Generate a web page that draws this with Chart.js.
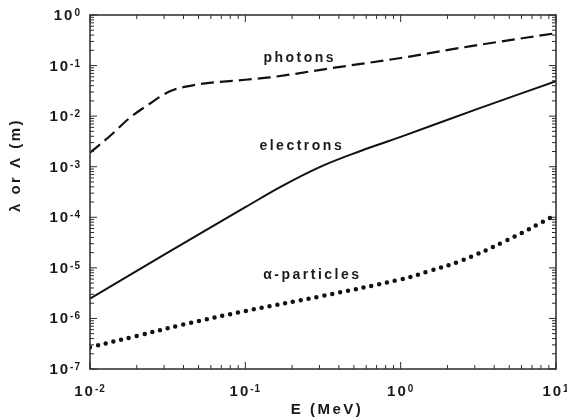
<!DOCTYPE html>
<html>
<head>
<meta charset="utf-8">
<script src="https://cdn.jsdelivr.net/npm/chart.js@4.4.0/dist/chart.umd.min.js"></script>
<style>
  html, body { margin: 0; padding: 0; background: #fff; }
  #wrap { width: 567px; height: 418px; }
</style>
</head>
<body>
<div id="wrap"><canvas id="canvas" width="567" height="418"></canvas></div>
<script>
// values (E in MeV, lambda in m)
let photonE = [0.01, 0.0135, 0.018, 0.0245, 0.0327, 0.0485, 0.1, 0.144, 0.386, 1, 2.78, 10];
let photonL = [1.9e-3, 4.1e-3, 9.2e-3, 1.8e-2, 3.1e-2, 4.2e-2, 5.25e-2, 5.85e-2, 9.2e-2, 0.141, 0.24, 0.437];

let electronE = [0.01, 0.0316, 0.1, 0.178, 0.316, 0.562, 1, 3.16, 10];
let electronL = [2.45e-6, 2.0e-5, 1.58e-4, 4.37e-4, 1.05e-3, 2.09e-3, 3.89e-3, 1.41e-2, 4.9e-2];

let alphaE = [0.01, 0.02, 0.04, 0.1, 0.316, 1, 1.5, 2.4, 4.8, 10];
let alphaL = [2.7e-7, 4.5e-7, 7.6e-7, 1.4e-6, 2.8e-6, 5.9e-6, 8.5e-6, 1.35e-5, 3.47e-5, 1.12e-4];

let xDecades = [-2, -1, 0, 1];
let yDecades = [-7, -6, -5, -4, -3, -2, -1, 0];

// curve labels, placed in data coordinates
let curveLabels = [
  { text: 'photons', E: 0.224, L: 0.143 },
  { text: 'electrons', E: 0.231, L: 2.5e-3 },
  { text: '\u03b1-particles', E: 0.27, L: 7.1e-6 }
];

function toPoints(xs, ys) {
  let out = [];
  for (let i = 0; i < xs.length; i++) {
    out.push({ x: xs[i], y: ys[i] });
  }
  return out;
}

const FONT = '"Liberation Sans", Arial, sans-serif';
const INK = '#1a1a1a';

function drawPow(ctx, exp, x, y, align) {
  ctx.font = 'bold 15px ' + FONT;
  ctx.letterSpacing = '2px';
  let w1 = ctx.measureText('10').width;
  ctx.font = 'bold 10px ' + FONT;
  ctx.letterSpacing = '1px';
  let expText = (exp < 0 ? '-' : '') + Math.abs(exp);
  let w2 = ctx.measureText(expText).width;
  let total = w1 + w2;
  let left = align === 'right' ? x - total : x - total / 2;
  ctx.textAlign = 'left';
  ctx.textBaseline = 'alphabetic';
  ctx.font = 'bold 15px ' + FONT;
  ctx.letterSpacing = '2px';
  ctx.fillText('10', left, y);
  ctx.font = 'bold 10px ' + FONT;
  ctx.letterSpacing = '1px';
  ctx.fillText(expText, left + w1, y - 4);
}

const framePlugin = {
  id: 'frame',
  afterDraw(chart) {
    let ctx = chart.ctx;
    let a = chart.chartArea;
    let xs = chart.scales.x;
    let ys = chart.scales.y;
    ctx.save();
    ctx.strokeStyle = '#2a2a2a';
    ctx.lineWidth = 1.5;
    ctx.strokeRect(a.left, a.top, a.right - a.left, a.bottom - a.top);

    // inward ticks on all four sides
    ctx.lineWidth = 1;
    ctx.beginPath();
    xDecades.forEach(function(d) {
      for (let m = 1; m <= 9; m++) {
        let v = m * Math.pow(10, d);
        if (v > 10.0001) break;
        let px = xs.getPixelForValue(v);
        let len = m === 1 ? 7 : 4;
        ctx.moveTo(px, a.bottom); ctx.lineTo(px, a.bottom - len);
        ctx.moveTo(px, a.top); ctx.lineTo(px, a.top + len);
      }
    });
    yDecades.forEach(function(d) {
      for (let m = 1; m <= 9; m++) {
        let v = m * Math.pow(10, d);
        if (v > 1.0001) break;
        let py = ys.getPixelForValue(v);
        let len = m === 1 ? 7 : 4;
        ctx.moveTo(a.left, py); ctx.lineTo(a.left + len, py);
        ctx.moveTo(a.right, py); ctx.lineTo(a.right - len, py);
      }
    });
    ctx.stroke();

    // tick labels
    ctx.fillStyle = INK;
    xDecades.forEach(function(d) {
      drawPow(ctx, d, xs.getPixelForValue(Math.pow(10, d)), a.bottom + 27, 'center');
    });
    yDecades.forEach(function(d) {
      drawPow(ctx, d, a.left - 9, ys.getPixelForValue(Math.pow(10, d)) + 5, 'right');
    });

    // axis titles
    ctx.font = 'bold 15px ' + FONT;
    ctx.letterSpacing = '2.5px';
    ctx.textAlign = 'center';
    ctx.textBaseline = 'middle';
    ctx.fillText('E (MeV)', 327, 410);
    ctx.save();
    ctx.translate(16, 165);
    ctx.rotate(-Math.PI / 2);
    ctx.fillText('\u03bb or \u039b (m)', 0, 0);
    ctx.restore();

    // curve labels
    ctx.font = 'bold 14px ' + FONT;
    ctx.letterSpacing = '2.5px';
    curveLabels.forEach(function(l) {
      ctx.fillText(l.text, xs.getPixelForValue(l.E), ys.getPixelForValue(l.L));
    });
    ctx.restore();
  }
};

let chart = new Chart(document.getElementById('canvas').getContext('2d'), {
  type: 'line',
  data: {
    datasets: [
      {
        label: 'photons',
        data: toPoints(photonE, photonL),
        borderColor: '#111',
        borderWidth: 2.2,
        borderDash: [13, 6],
        pointRadius: 0,
        cubicInterpolationMode: 'monotone'
      },
      {
        label: 'electrons',
        data: toPoints(electronE, electronL),
        borderColor: '#111',
        borderWidth: 2,
        pointRadius: 0,
        tension: 0.4
      },
      {
        label: 'alpha-particles',
        data: toPoints(alphaE, alphaL),
        borderColor: '#111',
        borderWidth: 4.5,
        borderDash: [0, 8],
        borderCapStyle: 'round',
        pointRadius: 0,
        tension: 0.4
      }
    ]
  },
  options: {
    responsive: false,
    animation: false,
    layout: { padding: { left: 90, right: 11, top: 15, bottom: 49 } },
    plugins: { legend: { display: false }, tooltip: { enabled: false } },
    scales: {
      x: { type: 'logarithmic', min: 0.01, max: 10, display: false },
      y: { type: 'logarithmic', min: 1e-7, max: 1, display: false }
    }
  },
  plugins: [framePlugin]
});
</script>
</body>
</html>
